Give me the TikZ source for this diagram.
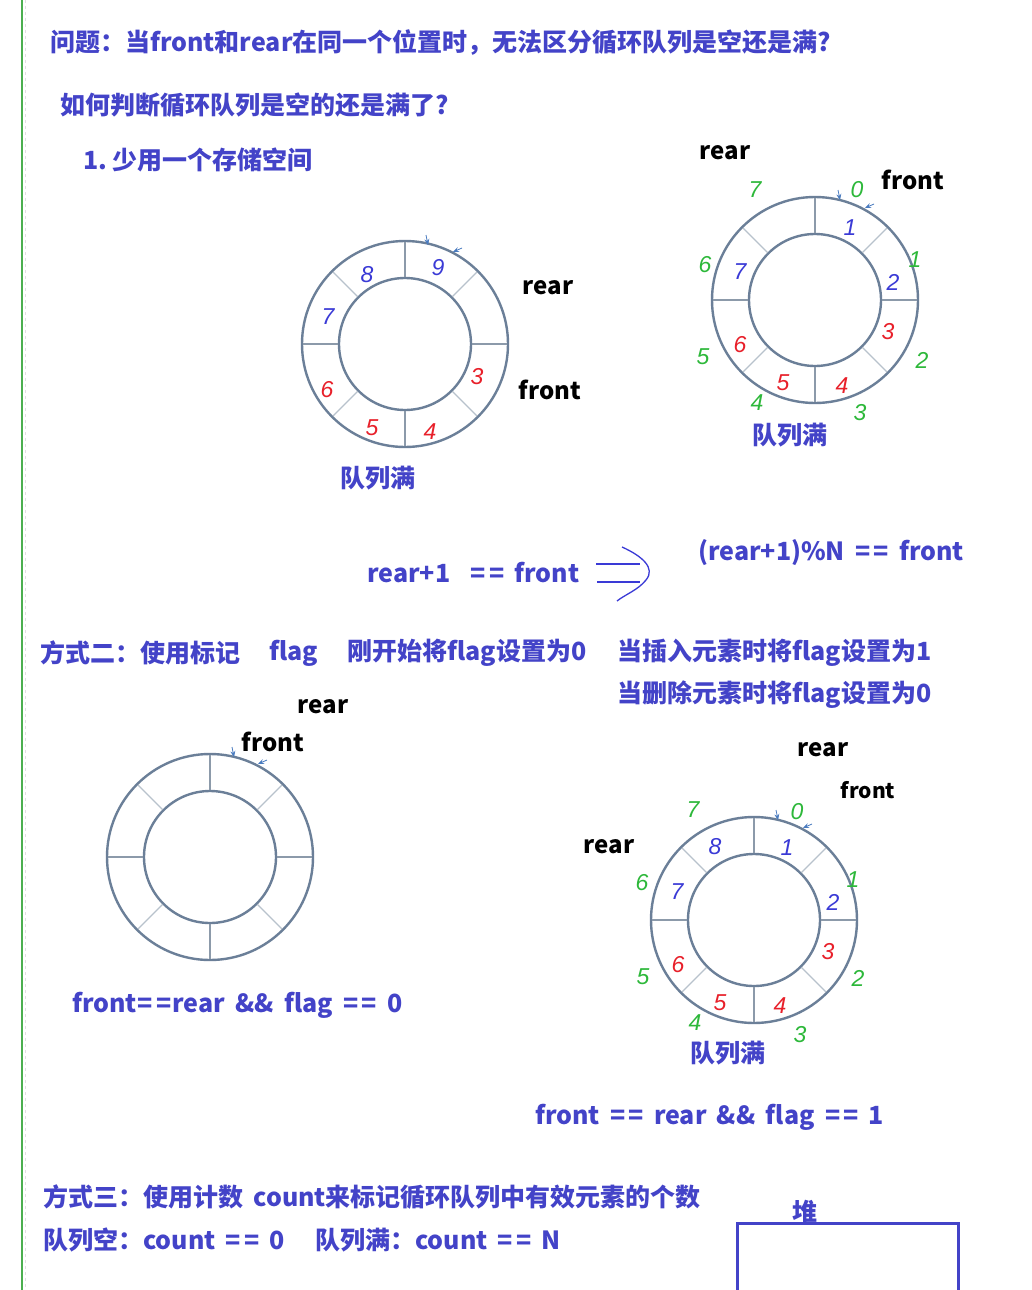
\documentclass[tikz,border=0pt]{standalone}
\usepackage{fontspec}
\usepackage{xcolor}
\usepackage{tikz}
\usetikzlibrary{arrows.meta,positioning}
\newfontfamily\cjk{Noto Sans CJK SC}[WordSpace=1.8]
\newfontfamily\hand{Liberation Sans}
\definecolor{textblue}{HTML}{4343C8}
\definecolor{ringline}{HTML}{6B7F98}
\definecolor{divline}{HTML}{8C9AAA}
\definecolor{divlight}{HTML}{B8C2CC}
\definecolor{handblue}{HTML}{3A3AD6}
\definecolor{handred}{HTML}{E8202A}
\definecolor{handgreen}{HTML}{2DB83A}
\definecolor{marginline}{HTML}{4CAF50}
\definecolor{tickblue}{HTML}{4A7CC0}
\newcommand{\eqeq}{=\kern3pt=}

\begin{document}
\begin{tikzpicture}[
  x=1pt, y=-1pt,
  headline/.style={anchor=west, inner sep=0pt, font=\cjk\bfseries\fontsize{25}{30}\selectfont, text=textblue},
  ptrlabel/.style={inner sep=0pt, font=\cjk\bfseries\fontsize{24}{28}\selectfont, text=black},
  outerring/.style={draw=ringline, line width=2.4pt, circle, minimum size=206pt, inner sep=0pt, outer sep=0pt},
  innerring/.style={draw=ringline, line width=2.4pt, circle, minimum size=132pt, inner sep=0pt, outer sep=0pt},
  divmain/.style={draw=divline, line width=1.4pt, shorten <=1.2pt, shorten >=1.2pt},
  divdiag/.style={draw=divlight, line width=1.1pt, shorten <=1.2pt, shorten >=1.2pt},
  digit/.style={inner sep=0pt, font=\hand\itshape\fontsize{23}{23}\selectfont},
  tick/.style={-{Stealth[length=6pt, width=5pt]}, tickblue, line width=0.8pt}
]
  \useasboundingbox[fill=white] (0,0) rectangle (1031,1290);
  % margin rules
  \draw[black!12, dashed, line width=0.8pt] (25,0) -- (25,1290);
  \draw[marginline, line width=1.2pt] (22,0) -- (22,1290);

  % headings
  \node[headline] (question) at (50,43)  {问题：当front和rear在同一个位置时，无法区分循环队列是空还是满?};
  \node[headline] (how)      at (60,105) {如何判断循环队列是空的还是满了?};
  \node[headline] (way1)     at (83,160) {1.\kern5pt 少用一个存储空间};

  % rings
  \node[outerring] (ringA) at (405,344) {};
  \node[innerring] (ringA-in) at (ringA) {};
  \node[outerring] (ringB) at (815,300) {};
  \node[innerring] (ringB-in) at (ringB) {};
  \node[outerring] (ringC) at (210,857) {};
  \node[innerring] (ringC-in) at (ringC) {};
  \node[outerring] (ringD) at (754,920) {};
  \node[innerring] (ringD-in) at (ringD) {};
  \foreach \r in {ringA,ringB,ringC,ringD} {
    \foreach \a in {0,90,180,270}
      \draw[divmain] (\r-in.\a) -- (\r.\a);
    \foreach \a in {45,135,225,315}
      \draw[divdiag] (\r-in.\a) -- (\r.\a);
  }

  % ring A: one slot left free
  \node[digit, handblue] (a8) at (367,275) {8};
  \node[digit, handblue] (a9) at (438,268) {9};
  \node[digit, handblue] (a7) at (328,317) {7};
  \node[digit, handred]  (a3) at (477,377) {3};
  \node[digit, handred]  (a6) at (327,390) {6};
  \node[digit, handred]  (a5) at (372,428) {5};
  \node[digit, handred]  (a4) at (430,432) {4};
  \node[ptrlabel] (rearA)  at (548,288) {rear};
  \node[ptrlabel] (frontA) at (550,390) {front};
  \node[headline, anchor=center] (fullA) at (378,478) {队列满};
  \draw[tick] (426,235) -- (428,245);
  \draw[tick] (462,248) -- (453,252);

  % ring B: numbered slots
  \node[digit, handgreen] (b7o) at (755,190) {7};
  \node[digit, handgreen] (b0o) at (857,190) {0};
  \node[digit, handgreen] (b1o) at (915,260) {1};
  \node[digit, handgreen] (b2o) at (922,360) {2};
  \node[digit, handgreen] (b3o) at (860,413) {3};
  \node[digit, handgreen] (b4o) at (757,403) {4};
  \node[digit, handgreen] (b5o) at (703,357) {5};
  \node[digit, handgreen] (b6o) at (705,265) {6};
  \node[digit, handblue] (b1) at (850,228) {1};
  \node[digit, handblue] (b2) at (893,282) {2};
  \node[digit, handblue] (b7) at (740,272) {7};
  \node[digit, handred]  (b3) at (888,332) {3};
  \node[digit, handred]  (b4) at (842,386) {4};
  \node[digit, handred]  (b5) at (783,383) {5};
  \node[digit, handred]  (b6) at (740,345) {6};
  \node[ptrlabel] (rearB)  at (725,153) {rear};
  \node[ptrlabel] (frontB) at (913,180) {front};
  \node[headline, anchor=center] (fullB) at (790,435) {队列满};
  \draw[tick] (838,190) -- (840,200);
  \draw[tick] (874,204) -- (865,208);

  % conditions
  \node[headline] (condA) at (367,573) {rear+1\ \ \eqeq{} front};
  \node[headline] (condB) at (698,553) {(rear+1)\%N \eqeq{} front};
  \draw[handblue, line width=1.3pt] (596,564) -- (640,564);
  \draw[handblue, line width=1.3pt] (597,582) -- (640,582);
  \draw[handblue, line width=1.3pt] (622,547) .. controls (642,556) and (656,568) .. (646,580)
    .. controls (638,590) and (626,594) .. (617,601);

  % way two
  \node[headline] (way2)  at (40,653)  {方式二：使用标记};
  \node[headline] (flagw) at (269,653) {flag};
  \node[headline] (flag0) at (347,653) {刚开始将flag设置为0};
  \node[headline] (flag1) at (617,653) {当插入元素时将flag设置为1};
  \node[headline] (flagd) at (617,695) {当删除元素时将flag设置为0};

  % ring C: empty
  \node[ptrlabel] (rearC)  at (323,707) {rear};
  \node[ptrlabel] (frontC) at (273,742) {front};
  \draw[tick] (232,747) -- (234,757);
  \draw[tick] (267,760) -- (258,764);
  \node[headline] (emptyC) at (72,1005) {front\kern1pt\eqeq\kern1pt rear \&\& flag \eqeq{} 0};

  % ring D: full
  \node[digit, handgreen] (d7o) at (693,810) {7};
  \node[digit, handgreen] (d0o) at (797,812) {0};
  \node[digit, handgreen] (d1o) at (853,880) {1};
  \node[digit, handgreen] (d2o) at (858,978) {2};
  \node[digit, handgreen] (d3o) at (800,1035) {3};
  \node[digit, handgreen] (d4o) at (695,1023) {4};
  \node[digit, handgreen] (d5o) at (643,977) {5};
  \node[digit, handgreen] (d6o) at (642,883) {6};
  \node[digit, handblue] (d8) at (715,847) {8};
  \node[digit, handblue] (d1) at (787,848) {1};
  \node[digit, handblue] (d7) at (677,892) {7};
  \node[digit, handblue] (d2) at (833,902) {2};
  \node[digit, handred]  (d3) at (828,952) {3};
  \node[digit, handred]  (d4) at (780,1006) {4};
  \node[digit, handred]  (d5) at (720,1003) {5};
  \node[digit, handred]  (d6) at (678,965) {6};
  \node[ptrlabel] (rearD)  at (823,750) {rear};
  \node[ptrlabel, font=\cjk\bfseries\fontsize{21}{24}\selectfont] (frontD) at (868,790) {front};
  \node[ptrlabel] (rearD2) at (609,847) {rear};
  \node[headline, anchor=center] (fullD) at (728,1053) {队列满};
  \draw[tick] (776,810) -- (778,820);
  \draw[tick] (812,824) -- (803,828);
  \node[headline] (fullflag) at (535,1117) {front \eqeq{} rear \&\& flag \eqeq{} 1};

  % way three
  \node[headline] (way3)   at (43,1197) {方式三：使用计数\ count来标记循环队列中有效元素的个数};
  \node[headline] (cnt0)   at (43,1240) {队列空：count \eqeq{} 0};
  \node[headline] (cntN)   at (315,1240) {队列满：count \eqeq{} N};
  \node[headline, anchor=center] (heap) at (805,1212) {堆};
  \draw[textblue, line width=3pt] (737,1295) -- (737,1223) -- (958,1223) -- (958,1295);
\end{tikzpicture}
\end{document}
